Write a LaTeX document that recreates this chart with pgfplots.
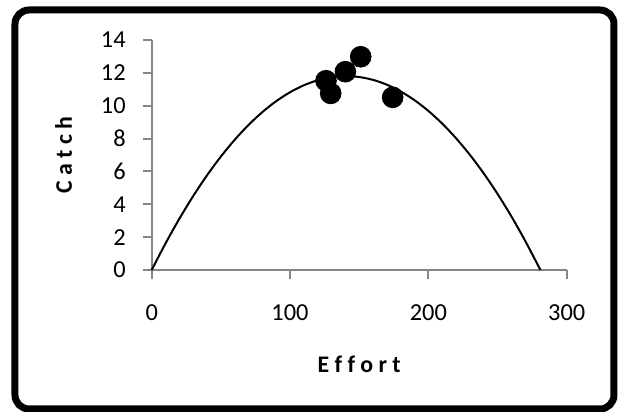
\documentclass[border=0pt]{standalone}
\usepackage{pgfplots}
\pgfplotsset{compat=1.18}
\usepackage{fontspec}
\setmainfont{Carlito}
\definecolor{axgray}{RGB}{134,134,134}
\begin{document}
\begin{tikzpicture}
\useasboundingbox (0,0) rectangle (309pt,206pt);
\draw[line width=3.5pt, rounded corners=7pt] (7.5pt,1.5pt) rectangle (307pt,201pt);
\begin{axis}[at={(75.85pt,71pt)}, anchor=south west, scale only axis,
  width=207.5pt, height=115pt,
  xmin=0, xmax=300, ymin=0, ymax=14,
  xtick={0,100,200,300}, ytick={0,2,4,6,8,10,12,14},
  axis lines=left,
  axis line style={axgray, line width=1pt, -},
  tick style={axgray, line width=1pt},
  tick align=outside, major tick length=4.5pt,
  /pgf/number format/assume math mode=true,
  xticklabel={\fontsize{12.2}{14}\selectfont\pgfmathprintnumber{\tick}},
  yticklabel={\fontsize{12.2}{14}\selectfont\pgfmathprintnumber{\tick}},
  tick label style={text=black},
  xticklabel style={anchor=center, yshift=-17pt},
  yticklabel style={anchor=east, xshift=-5pt},
  xlabel={\fontsize{11.9}{14}\selectfont\bfseries E f f o r t},
  ylabel={\fontsize{11.9}{14}\selectfont\bfseries C a t c h},
  xlabel style={at={(axis description cs:0.5,-0.409)}, anchor=center},
  ylabel style={at={(axis description cs:-0.212,0.5)}, anchor=center},
  clip=false]
\addplot[black, line width=1pt, smooth] coordinates {
(0,0) (10,1.620) (20,3.120) (30,4.501) (40,5.762) (50,6.904) (60,7.926)
(70,8.829) (80,9.612) (90,10.276) (100,10.820) (110,11.244) (120,11.549)
(130,11.734) (140.5,11.800) (150,11.746) (160,11.573) (170,11.280)
(180,10.867) (190,10.335) (200,9.684) (210,8.913) (220,8.022) (230,7.012)
(240,5.882) (250,4.633) (260,3.264) (270,1.775) (281,0)};
\addplot[only marks, mark=*, mark size=5.2pt, black] coordinates {
(126.0,11.52) (129.4,10.75) (140.0,12.07) (151.1,12.98) (174.2,10.51)};
\end{axis}
\end{tikzpicture}
\end{document}
